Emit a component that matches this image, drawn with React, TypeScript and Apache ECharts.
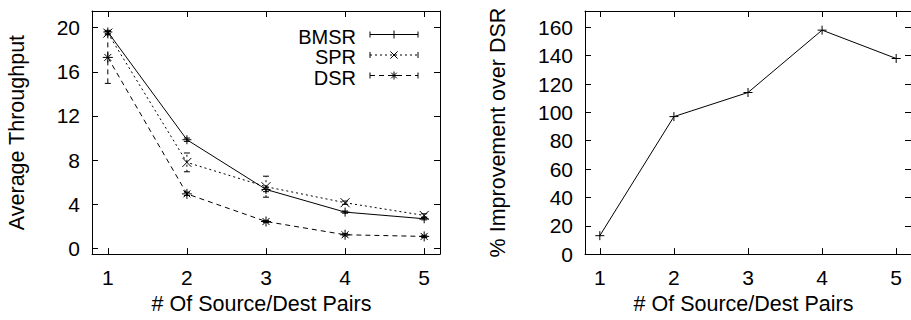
import React, { useEffect, useRef } from "react";
import * as echarts from "echarts";

const pairs = [1, 2, 3, 4, 5];
const seriesNames = ["BMSR", "SPR", "DSR"];
const bmsr = [19.6, 9.85, 5.35, 3.3, 2.7];
const spr = [19.5, 7.8, 5.6, 4.15, 3.0];
const dsr = [17.3, 4.95, 2.45, 1.25, 1.1];
const bmsrErr = [0.15, 0.15, 0.2, 0.1, 0.1];
const sprErr = [0.15, 0.85, 0.95, 0.15, 0.15];
const dsrErr = [2.35, 0.15, 0.1, 0.1, 0.1];
const improvement = [13, 97, 114, 158, 138];
const throughputTicks = [0, 4, 8, 12, 16, 20];
const improvementTicks = [0, 20, 40, 60, 80, 100, 120, 140, 160];

const FONT = "'Liberation Sans', Arial, sans-serif";
const BLACK = "#000";

const PLUS = "path://M5,0L5,10M0,5L10,5";
const CROSS = "path://M0.5,0.5L9.5,9.5M9.5,0.5L0.5,9.5";
const STAR = "path://M5,0L5,10M0,5L10,5M1.5,1.5L8.5,8.5M8.5,1.5L1.5,8.5";

const dashes: Record<string, number[] | null> = {
  BMSR: null,
  SPR: [2, 3],
  DSR: [5, 4],
};
const markers: Record<string, string> = { BMSR: PLUS, SPR: CROSS, DSR: STAR };

function markerLines(kind: string, cx: number, cy: number, r: number) {
  const segs: number[][] = [];
  if (kind === "BMSR" || kind === "DSR") {
    segs.push([cx - r, cy, cx + r, cy], [cx, cy - r, cx, cy + r]);
  }
  if (kind === "SPR" || kind === "DSR") {
    const d = kind === "DSR" ? r * 0.7 : r * 0.9;
    segs.push([cx - d, cy - d, cx + d, cy + d], [cx + d, cy - d, cx - d, cy + d]);
  }
  return segs.map((s) => ({
    type: "line",
    shape: { x1: s[0], y1: s[1], x2: s[2], y2: s[3] },
    style: { stroke: BLACK, lineWidth: 1 },
    silent: true,
  }));
}

function axisCommon(extra: any) {
  return {
    type: "value",
    axisLine: { show: true, onZero: false, lineStyle: { color: BLACK, width: 1 } },
    axisTick: { show: true, inside: true, length: 6, lineStyle: { color: BLACK, width: 1 } },
    splitLine: { show: false },
    ...extra,
  };
}

const TICK_FS = 21;
const NAME_FS = 21.5;
const xLabelStyle = { color: BLACK, fontSize: TICK_FS, fontFamily: FONT, margin: 13 };
const yLabelStyle = { color: BLACK, fontSize: TICK_FS, fontFamily: FONT, margin: 12 };
const nameStyle = { color: BLACK, fontSize: NAME_FS, fontFamily: FONT };
const xNameStyle = { ...nameStyle, padding: [0, 9, 0, 0] };

export default function App() {
  const ref = useRef<HTMLDivElement>(null);
  useEffect(() => {
    if (!ref.current) return;
    const chart = echarts.init(ref.current, null, { renderer: "svg" });

    const lineData = [bmsr, spr, dsr];
    const errData = [bmsrErr, sprErr, dsrErr];

    const lineSeries: any[] = seriesNames.map((name, i) => ({
      type: "line",
      name,
      xAxisIndex: 0,
      yAxisIndex: 0,
      data: pairs.map((p, j) => [p, lineData[i][j]]),
      symbol: markers[name],
      symbolSize: name === "DSR" ? 10 : 9,
      showSymbol: true,
      lineStyle: { color: BLACK, width: 1, type: dashes[name] || "solid" },
      itemStyle: { color: "none", borderColor: BLACK, borderWidth: 1 },
      z: 3,
    }));

    const errSeries: any[] = seriesNames.map((name, i) => ({
      type: "custom",
      name: name + " err",
      xAxisIndex: 0,
      yAxisIndex: 0,
      data: pairs.map((p, j) => [p, lineData[i][j] - errData[i][j], lineData[i][j] + errData[i][j]]),
      renderItem: (params: any, api: any) => {
        const x = api.value(0);
        const lo = api.coord([x, api.value(1)]);
        const hi = api.coord([x, api.value(2)]);
        const style = { stroke: BLACK, lineWidth: 1, lineDash: dashes[name] || undefined };
        const cap = 3;
        return {
          type: "group",
          children: [
            { type: "line", shape: { x1: lo[0], y1: lo[1], x2: hi[0], y2: hi[1] }, style },
            { type: "line", shape: { x1: lo[0] - cap, y1: lo[1], x2: lo[0] + cap, y2: lo[1] }, style: { stroke: BLACK, lineWidth: 1 } },
            { type: "line", shape: { x1: hi[0] - cap, y1: hi[1], x2: hi[0] + cap, y2: hi[1] }, style: { stroke: BLACK, lineWidth: 1 } },
          ],
        };
      },
      z: 2,
    }));

    const legendEls: any[] = [];
    const rowY = [35.5, 56, 76.5];
    seriesNames.forEach((name, i) => {
      const y = rowY[i];
      legendEls.push({
        type: "text",
        style: {
          text: name,
          x: 356,
          y: y + 1,
          align: "right",
          verticalAlign: "middle",
          fontSize: 20,
          fontFamily: FONT,
          fill: BLACK,
        },
      });
      legendEls.push({
        type: "line",
        shape: { x1: 370, y1: y - 1, x2: 418, y2: y - 1 },
        style: { stroke: BLACK, lineWidth: 1, lineDash: dashes[name] || undefined },
      });
      legendEls.push({
        type: "line",
        shape: { x1: 370, y1: y - 4, x2: 370, y2: y + 2 },
        style: { stroke: BLACK, lineWidth: 1 },
      });
      legendEls.push({
        type: "line",
        shape: { x1: 418, y1: y - 4, x2: 418, y2: y + 2 },
        style: { stroke: BLACK, lineWidth: 1 },
      });
      legendEls.push(...markerLines(name, 394, y - 1, 4));
    });

    const xTicks = { show: true, inside: true, length: 6, customValues: pairs, lineStyle: { color: BLACK } };

    chart.setOption({
      animation: false,
      backgroundColor: "#fff",
      textStyle: { fontFamily: FONT },
      grid: [
        { left: 92, top: 11, width: 348, height: 246 },
        { left: 585, top: 11, width: 335, height: 246 },
      ],
      xAxis: [
        axisCommon({
          gridIndex: 0,
          position: "bottom",
          min: 0.8,
          max: 5.2,
          axisTick: xTicks,
          axisLabel: { ...xLabelStyle, customValues: pairs },
          name: "# Of Source/Dest Pairs",
          nameLocation: "middle",
          nameGap: 35,
          nameTextStyle: xNameStyle,
        }),
        axisCommon({
          gridIndex: 0,
          position: "top",
          min: 0.8,
          max: 5.2,
          axisTick: xTicks,
          axisLabel: { show: false },
        }),
        axisCommon({
          gridIndex: 1,
          position: "bottom",
          min: 0.8,
          max: 5.2,
          axisTick: xTicks,
          axisLabel: { ...xLabelStyle, customValues: pairs },
          name: "# Of Source/Dest Pairs",
          nameLocation: "middle",
          nameGap: 35,
          nameTextStyle: xNameStyle,
        }),
        axisCommon({
          gridIndex: 1,
          position: "top",
          min: 0.8,
          max: 5.2,
          axisTick: xTicks,
          axisLabel: { show: false },
        }),
      ],
      yAxis: [
        axisCommon({
          gridIndex: 0,
          position: "left",
          min: -0.5,
          max: 21.5,
          axisTick: { show: true, inside: true, length: 6, customValues: throughputTicks, lineStyle: { color: BLACK } },
          axisLabel: { ...yLabelStyle, customValues: throughputTicks },
          name: "Average Throughput",
          nameLocation: "middle",
          nameGap: 64,
          nameTextStyle: nameStyle,
        }),
        axisCommon({
          gridIndex: 0,
          position: "right",
          min: -0.5,
          max: 21.5,
          axisTick: { show: true, inside: true, length: 6, customValues: throughputTicks, lineStyle: { color: BLACK } },
          axisLabel: { show: false },
        }),
        axisCommon({
          gridIndex: 1,
          position: "left",
          min: 0,
          max: 171.5,
          axisTick: { show: true, inside: true, length: 6, customValues: improvementTicks, lineStyle: { color: BLACK } },
          axisLabel: { ...yLabelStyle, customValues: improvementTicks },
          name: "% Improvement over DSR",
          nameLocation: "middle",
          nameGap: 76,
          nameTextStyle: nameStyle,
        }),
        axisCommon({
          gridIndex: 1,
          position: "right",
          min: 0,
          max: 171.5,
          axisTick: { show: true, inside: true, length: 6, customValues: improvementTicks, lineStyle: { color: BLACK } },
          axisLabel: { show: false },
        }),
      ],
      series: [
        ...errSeries,
        ...lineSeries,
        {
          type: "line",
          name: "Improvement",
          xAxisIndex: 2,
          yAxisIndex: 2,
          data: pairs.map((p, j) => [p, improvement[j]]),
          symbol: PLUS,
          symbolSize: 9,
          showSymbol: true,
          lineStyle: { color: BLACK, width: 1 },
          itemStyle: { color: "none", borderColor: BLACK, borderWidth: 1 },
        },
      ],
      graphic: legendEls,
    });

    return () => chart.dispose();
  }, []);

  return (
    <div
      ref={ref}
      style={{ position: "fixed", left: 0, top: 0, width: 911, height: 320, background: "#fff" }}
    />
  );
}
